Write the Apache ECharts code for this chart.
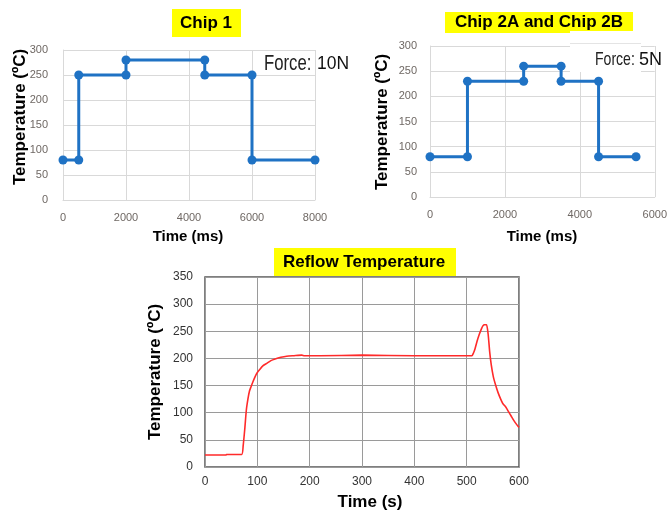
<!DOCTYPE html>
<html>
<head>
<meta charset="utf-8">
<script src="https://cdn.jsdelivr.net/npm/echarts@6/dist/echarts.min.js"></script>
<style>html,body{margin:0;padding:0;background:#fff}#c{width:670px;height:512px}</style>
</head>
<body>
<div id="c"></div>
<script>
// ---- data ----
const chip1Time = [0, 500, 500, 2000, 2000, 4500, 4500, 6000, 6000, 8000];
const chip1Temp = [80, 80, 250, 250, 280, 280, 250, 250, 80, 80];
const chip2Time = [0, 1000, 1000, 2500, 2500, 3500, 3500, 4500, 4500, 5500];
const chip2Temp = [80, 80, 230, 230, 260, 260, 230, 230, 80, 80];
const reflowTime = [0, 40, 41, 70, 73, 76, 79, 82, 85, 88, 92, 96, 100, 105, 110, 118, 126, 134, 145, 156, 170, 185, 190, 200, 220, 300, 400, 500, 510, 513, 516, 520, 524, 528, 531, 534, 538, 541, 544, 547, 551, 555, 560, 565, 569, 575, 580, 585, 590, 595, 600];
const reflowTemp = [22, 22, 23, 23, 40, 70, 105, 125, 140, 148, 158, 167, 174, 180, 186, 191, 196, 199, 202, 204, 205, 206, 205, 205, 205, 206, 205, 205, 205, 210, 218, 232, 244, 254, 260, 262, 262, 245, 212, 188, 166, 152, 137, 125, 117, 110, 102, 94, 86, 79, 73];
const titles = ['Chip 1', 'Chip 2A and Chip 2B', 'Reflow Temperature'];
const forceLabels = [['Force:', '10N'], ['Force:', '5N']];
const yName = 'Temperature (ºC)';
const xNames = ['Time (ms)', 'Time (ms)', 'Time (s)'];

function zip(a, b) { return a.map((v, i) => [v, b[i]]); }

const sans = "'Liberation Sans',Arial,sans-serif";
const lightGrid = '#d9d9d9';
const tickCol = '#6f6864';
const blue = '#1f72c4';
const plain = v => String(v);

function topX(idx, max, margin) {
  return {
    type: 'value', gridIndex: idx, min: 0, max: max, interval: 2000,
    axisLine: { show: true, lineStyle: { color: lightGrid } },
    axisTick: { show: false },
    splitLine: { show: true, lineStyle: { color: lightGrid } },
    axisLabel: { color: tickCol, fontSize: 11, fontFamily: sans, margin: margin, showMaxLabel: true, formatter: plain }
  };
}
function topY(idx, margin) {
  return {
    type: 'value', gridIndex: idx, min: 0, max: 300, interval: 50,
    axisLine: { show: true, lineStyle: { color: lightGrid } },
    axisTick: { show: false },
    splitLine: { show: true, lineStyle: { color: lightGrid } },
    axisLabel: { color: tickCol, fontSize: 11, fontFamily: sans, margin: margin, formatter: plain }
  };
}
function txt(x, y, text, size, extra) {
  return Object.assign({ type: 'text', z: 101, x: x, y: y, style: { text: text, font: 'bold ' + size + "px 'Liberation Sans', Arial, sans-serif", fill: '#000', align: 'center', verticalAlign: 'middle' } }, extra || {});
}

const chart = echarts.init(document.getElementById('c'), null, { renderer: 'canvas' });
const option = {
  animation: false,
  backgroundColor: '#fff',
  grid: [
    { left: 63, top: 50, width: 252, height: 150 },
    { left: 430, top: 46, width: 227, height: 151 },
    { left: 205, top: 277, width: 314, height: 190, show: true, borderColor: '#555', borderWidth: 1.5, backgroundColor: 'transparent' }
  ],
  xAxis: [
    topX(0, 8000, 12),
    topX(1, 6000, 12),
    {
      type: 'value', gridIndex: 2, min: 0, max: 600, interval: 100,
      axisLine: { show: false },
      axisTick: { show: false },
      splitLine: { show: true, lineStyle: { color: '#9a9a9a' } },
      axisLabel: { color: '#333', fontSize: 12, fontFamily: sans, margin: 9, formatter: plain }
    }
  ],
  yAxis: [
    topY(0, 15),
    topY(1, 13),
    {
      type: 'value', gridIndex: 2, min: 0, max: 350, interval: 50,
      axisLine: { show: false },
      axisTick: { show: false },
      splitLine: { show: true, lineStyle: { color: '#9a9a9a' } },
      axisLabel: { color: '#333', fontSize: 12, fontFamily: sans, margin: 12, formatter: plain }
    }
  ],
  series: [
    {
      type: 'line', xAxisIndex: 0, yAxisIndex: 0, data: zip(chip1Time, chip1Temp),
      lineStyle: { color: blue, width: 3 }, itemStyle: { color: blue },
      symbol: 'circle', symbolSize: 9, z: 5
    },
    {
      type: 'line', xAxisIndex: 1, yAxisIndex: 1, data: zip(chip2Time, chip2Temp),
      lineStyle: { color: blue, width: 3 }, itemStyle: { color: blue },
      symbol: 'circle', symbolSize: 9, z: 5
    },
    {
      type: 'line', xAxisIndex: 2, yAxisIndex: 2, data: zip(reflowTime, reflowTemp),
      lineStyle: { color: '#ff2a2a', width: 1.6 }, showSymbol: false, symbol: 'none',
      smooth: 0.2, z: 5
    }
  ],
  graphic: [
    // title boxes
    { type: 'rect', z: 100, shape: { x: 172, y: 9, width: 69, height: 28 }, style: { fill: '#ffff00' } },
    txt(206, 23, titles[0], 17),
    { type: 'rect', z: 100, shape: { x: 445, y: 12, width: 188, height: 21 }, style: { fill: '#ffff00' } },
    txt(539, 22, titles[1], 17),
    { type: 'rect', z: 100, shape: { x: 274, y: 248, width: 182, height: 28 }, style: { fill: '#ffff00' } },
    txt(364, 262, titles[2], 17),
    // white box behind force label (chart 2)
    { type: 'rect', z: 100, shape: { x: 570, y: 31, width: 71, height: 41 }, style: { fill: '#fff' } },
    { type: 'line', z: 100, shape: { x1: 570, y1: 43.5, x2: 641, y2: 43.5 }, style: { stroke: '#e4e4e4', lineWidth: 1 } },
    // force labels (condensed "Force:" via horizontal scale)
    { type: 'text', z: 102, x: 264, y: 64, scaleX: 0.76, style: { text: forceLabels[0][0], font: "22px 'Liberation Sans', Arial, sans-serif", fill: '#222', align: 'left', verticalAlign: 'middle' } },
    { type: 'text', z: 102, x: 317, y: 64, scaleX: 0.92, style: { text: forceLabels[0][1], font: "19px 'Liberation Sans', Arial, sans-serif", fill: '#111', align: 'left', verticalAlign: 'middle' } },
    { type: 'text', z: 102, x: 595, y: 60, scaleX: 0.74, style: { text: forceLabels[1][0], font: "19px 'Liberation Sans', Arial, sans-serif", fill: '#222', align: 'left', verticalAlign: 'middle' } },
    { type: 'text', z: 102, x: 639, y: 60, style: { text: forceLabels[1][1], font: "18px 'Liberation Sans', Arial, sans-serif", fill: '#111', align: 'left', verticalAlign: 'middle' } },
    // y axis names
    txt(20, 117, yName, 17, { rotation: Math.PI / 2 }),
    txt(382, 122, yName, 17, { rotation: Math.PI / 2 }),
    txt(155, 372, yName, 17, { rotation: Math.PI / 2 }),
    // x axis names
    txt(188, 237, xNames[0], 15),
    txt(542, 237, xNames[1], 15),
    txt(370, 502, xNames[2], 17)
  ]
};
chart.setOption(option);
</script>
</body>
</html>
